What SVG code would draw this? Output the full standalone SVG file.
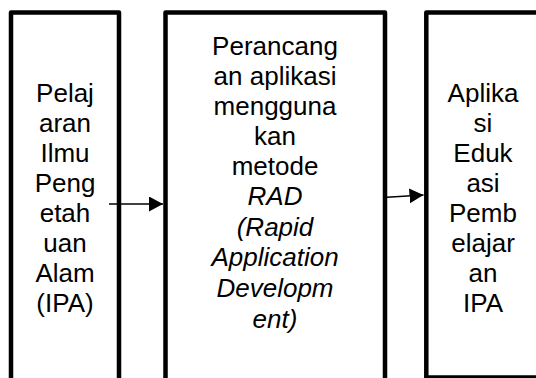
<svg xmlns="http://www.w3.org/2000/svg" width="536" height="378" viewBox="0 0 536 378">
<style>
.box{fill:#fff;stroke:#000;stroke-width:4.5;stroke-linejoin:round}
.t{font-family:"Liberation Sans",Arial,sans-serif;font-size:26px;fill:#000;text-anchor:middle}
.i{font-style:italic}
.c{stroke:#000;stroke-width:1.6;fill:none}
</style>
<defs>
<marker id="ah" markerUnits="userSpaceOnUse" markerWidth="15" markerHeight="16" refX="14" refY="7.5" orient="auto">
<path d="M0,0 L14,7.5 L0,15 Z" fill="#000"/>
</marker>
</defs>
<rect width="536" height="378" fill="#fff"/>
<g id="node1">
<rect class="box" x="11" y="12.5" width="108" height="390"/>
<text class="t" x="65" y="102">Pelaj</text>
<text class="t" x="65" y="132">aran</text>
<text class="t" x="65" y="162">Ilmu</text>
<text class="t" x="65" y="192">Peng</text>
<text class="t" x="65" y="222">etah</text>
<text class="t" x="65" y="252">uan</text>
<text class="t" x="65" y="282">Alam</text>
<text class="t" x="65" y="312">(IPA)</text>
</g>
<g id="node2">
<rect class="box" x="165.5" y="12.5" width="219.5" height="390"/>
<text class="t" x="275" y="55">Perancang</text>
<text class="t" x="275" y="85">an aplikasi</text>
<text class="t" x="275" y="115">mengguna</text>
<text class="t" x="275" y="145">kan</text>
<text class="t" x="275" y="175">metode</text>
<text class="t i" x="275" y="205">RAD</text>
<text class="t i" x="275" y="236">(Rapid</text>
<text class="t i" x="275" y="266">Application</text>
<text class="t i" x="275" y="297">Developm</text>
<text class="t i" x="275" y="328">ent)</text>
</g>
<g id="node3">
<rect class="box" x="426.3" y="12.5" width="114" height="365"/>
<text class="t" x="483" y="102">Aplika</text>
<text class="t" x="483" y="132">si</text>
<text class="t" x="483" y="162">Eduk</text>
<text class="t" x="483" y="192">asi</text>
<text class="t" x="483" y="222">Pemb</text>
<text class="t" x="483" y="252">elajar</text>
<text class="t" x="483" y="282">an</text>
<text class="t" x="483" y="312">IPA</text>
</g>
<g id="connectors">
<line class="c" x1="109" y1="204" x2="163" y2="204" marker-end="url(#ah)"/>
<line class="c" x1="387" y1="197.3" x2="423.5" y2="195" marker-end="url(#ah)"/>
</g>
</svg>
